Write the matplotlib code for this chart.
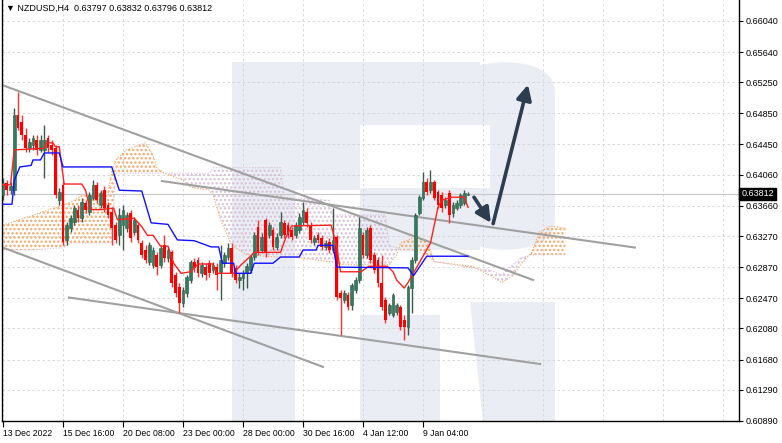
import matplotlib
matplotlib.use('Agg')
import matplotlib.pyplot as plt
from matplotlib.patches import Rectangle, Polygon, FancyBboxPatch
import numpy as np

# NZDUSD H4 candles (bar index 0 = 13 Dec 2022)
opens = [0.6380, 0.6395, 0.6386, 0.6386, 0.6483, 0.6474, 0.6457, 0.6440, 0.6444, 0.6451,
         0.6438, 0.6438, 0.6453, 0.6444, 0.6440, 0.6373, 0.6393, 0.6322, 0.6337, 0.6345,
         0.6361, 0.6350, 0.6370, 0.6358, 0.6376, 0.6393, 0.6367, 0.6386, 0.6367, 0.6358,
         0.6341, 0.6328, 0.6341, 0.6337, 0.6357, 0.6332, 0.6341, 0.6318, 0.6309, 0.6294,
         0.6290, 0.6303, 0.6290, 0.6315, 0.6299, 0.6306, 0.6277, 0.6261, 0.6241, 0.6254,
         0.6270, 0.6294, 0.6296, 0.6279, 0.6287, 0.6292, 0.6283, 0.6287, 0.6281, 0.6292,
         0.6300, 0.6312, 0.6286, 0.6270, 0.6273, 0.6279, 0.6283, 0.6300, 0.6339, 0.6309,
         0.6348, 0.6328, 0.6335, 0.6313, 0.6328, 0.6344, 0.6341, 0.6335, 0.6328, 0.6335,
         0.6345, 0.6358, 0.6341, 0.6319, 0.6328, 0.6324, 0.6313, 0.6319, 0.6309, 0.6326,
         0.6254, 0.6245, 0.6251, 0.6238, 0.6258, 0.6270, 0.6328, 0.6303, 0.6337, 0.6303,
         0.6296, 0.6267, 0.6245, 0.6228, 0.6225, 0.6229, 0.6236, 0.6219, 0.6210, 0.6260,
         0.6296, 0.6357, 0.6376, 0.6397, 0.6386, 0.6397, 0.6384, 0.6380, 0.6367, 0.6382,
         0.6357, 0.6363, 0.6367, 0.6370, 0.63797]
highs = [0.6402, 0.6399, 0.6397, 0.6492, 0.6512, 0.6483, 0.6466, 0.6453, 0.6457, 0.6457,
         0.6457, 0.6470, 0.6457, 0.6451, 0.6444, 0.6389, 0.6397, 0.6345, 0.6354, 0.6367,
         0.6367, 0.6376, 0.6373, 0.6384, 0.6399, 0.6397, 0.6386, 0.6391, 0.6371, 0.6363,
         0.6345, 0.6363, 0.6367, 0.6358, 0.6361, 0.6352, 0.6345, 0.6322, 0.6315, 0.6319,
         0.6313, 0.6306, 0.6315, 0.6328, 0.6313, 0.6309, 0.6281, 0.6267, 0.6261, 0.6277,
         0.6296, 0.6299, 0.6300, 0.6294, 0.6292, 0.6296, 0.6294, 0.6292, 0.6315, 0.6306,
         0.6318, 0.6318, 0.6290, 0.6279, 0.6283, 0.6292, 0.6303, 0.6332, 0.6348, 0.6331,
         0.6350, 0.6345, 0.6339, 0.6331, 0.6358, 0.6348, 0.6345, 0.6339, 0.6345, 0.6357,
         0.6371, 0.6363, 0.6345, 0.6328, 0.6332, 0.6328, 0.6322, 0.6324, 0.6363, 0.6328,
         0.6258, 0.6258, 0.6255, 0.6267, 0.6274, 0.6352, 0.6332, 0.6339, 0.6341, 0.6306,
         0.6300, 0.6303, 0.6249, 0.6241, 0.6254, 0.6241, 0.6238, 0.6225, 0.6264, 0.6300,
         0.6357, 0.6380, 0.6410, 0.6402, 0.6412, 0.6399, 0.6386, 0.6384, 0.6377, 0.6386,
         0.6371, 0.6373, 0.6382, 0.6386, 0.63832]
lows = [0.6373, 0.6380, 0.6381, 0.6380, 0.6464, 0.6451, 0.6435, 0.6435, 0.6438, 0.6431,
        0.6435, 0.6402, 0.6435, 0.6431, 0.6376, 0.6367, 0.6315, 0.6315, 0.6332, 0.6341,
        0.6345, 0.6345, 0.6357, 0.6354, 0.6373, 0.6370, 0.6363, 0.6358, 0.6350, 0.6315,
        0.6318, 0.6315, 0.6309, 0.6332, 0.6319, 0.6328, 0.6318, 0.6299, 0.6292, 0.6290,
        0.6286, 0.6277, 0.6286, 0.6294, 0.6294, 0.6261, 0.6249, 0.6228, 0.6236, 0.6249,
        0.6267, 0.6281, 0.6274, 0.6274, 0.6270, 0.6274, 0.6279, 0.6258, 0.6245, 0.6287,
        0.6296, 0.6274, 0.6267, 0.6260, 0.6258, 0.6260, 0.6279, 0.6296, 0.6303, 0.6305,
        0.6300, 0.6324, 0.6309, 0.6309, 0.6324, 0.6324, 0.6324, 0.6322, 0.6324, 0.6331,
        0.6341, 0.6339, 0.6318, 0.6315, 0.6318, 0.6309, 0.6309, 0.6305, 0.6305, 0.6245,
        0.6200, 0.6241, 0.6232, 0.6232, 0.6254, 0.6267, 0.6299, 0.6299, 0.6292, 0.6279,
        0.6261, 0.6232, 0.6215, 0.6225, 0.6223, 0.6225, 0.6206, 0.6193, 0.6200, 0.6228,
        0.6292, 0.6354, 0.6373, 0.6380, 0.6382, 0.6373, 0.6363, 0.6358, 0.6363, 0.6344,
        0.6352, 0.6361, 0.6363, 0.6367, 0.63796]
closes = [0.6395, 0.6386, 0.6391, 0.6483, 0.6466, 0.6457, 0.6440, 0.6448, 0.6453, 0.6438,
          0.6451, 0.6451, 0.6440, 0.6438, 0.6380, 0.6384, 0.6319, 0.6341, 0.6350, 0.6363,
          0.6350, 0.6371, 0.6361, 0.6380, 0.6393, 0.6373, 0.6382, 0.6363, 0.6354, 0.6337,
          0.6322, 0.6354, 0.6361, 0.6354, 0.6324, 0.6348, 0.6322, 0.6303, 0.6296, 0.6315,
          0.6309, 0.6287, 0.6312, 0.6299, 0.6309, 0.6267, 0.6254, 0.6241, 0.6258, 0.6274,
          0.6294, 0.6286, 0.6279, 0.6290, 0.6277, 0.6279, 0.6290, 0.6277, 0.6296, 0.6303,
          0.6312, 0.6279, 0.6270, 0.6274, 0.6279, 0.6288, 0.6300, 0.6328, 0.6306, 0.6326,
          0.6305, 0.6341, 0.6313, 0.6326, 0.6345, 0.6328, 0.6328, 0.6326, 0.6341, 0.6352,
          0.6361, 0.6344, 0.6322, 0.6324, 0.6322, 0.6313, 0.6318, 0.6309, 0.6322, 0.6249,
          0.6247, 0.6254, 0.6236, 0.6264, 0.6270, 0.6337, 0.6303, 0.6335, 0.6296, 0.6283,
          0.6267, 0.6236, 0.6219, 0.6238, 0.6251, 0.6238, 0.6210, 0.6210, 0.6261, 0.6296,
          0.6354, 0.6377, 0.6397, 0.6384, 0.6397, 0.6376, 0.6367, 0.6363, 0.6373, 0.6354,
          0.6367, 0.6370, 0.6380, 0.6382, 0.63812]

# Ichimoku lines (bar, price)
tenkan_bar = [0, 2, 3, 11, 11.5, 13.3, 14, 15, 15.7, 16.3, 21, 22, 23, 23.5, 26, 29.5, 30.5, 35,
              37, 38.5, 40, 42, 44, 45.5, 47.5, 50, 52, 56, 57, 61.5, 63.5, 66, 67, 74, 75.5,
              77, 87.5, 88, 89, 90, 95.5, 97.5, 102.5, 104, 105, 107, 108, 114, 116, 117,
              119.5, 123, 124]
tenkan_val = [0.6393, 0.6393, 0.6438, 0.6440, 0.6447, 0.6447, 0.6442, 0.6442, 0.6416, 0.6394,
              0.6394, 0.6386, 0.6367, 0.6361, 0.6361, 0.6363, 0.6348, 0.6350, 0.6339, 0.6328,
              0.6328, 0.6314, 0.6314, 0.6292, 0.6279, 0.6281, 0.6291, 0.6291, 0.6279, 0.6279,
              0.6290, 0.6301, 0.6306, 0.6306, 0.6326, 0.6340, 0.6341, 0.6332, 0.6313, 0.6281,
              0.6281, 0.6288, 0.6288, 0.6281, 0.6270, 0.6260, 0.6267, 0.6318, 0.6364, 0.6373,
              0.6377, 0.6377, 0.6364]
kijun_bar = [0, 2.4, 3, 4.5, 7.5, 8, 10, 11, 15, 16, 29, 31, 37, 39.5, 44, 46.5, 51, 55.5,
             57.5, 58.5, 61.5, 62, 66, 67, 72, 74, 79, 80, 83.5, 84, 88, 89, 108, 109.5,
             113, 124]
kijun_val = [0.6368, 0.6368, 0.6399, 0.6416, 0.6418, 0.6425, 0.6425, 0.6434, 0.6434, 0.6416,
             0.6416, 0.6386, 0.6385, 0.6344, 0.6342, 0.6322, 0.6321, 0.6313, 0.6313, 0.6292,
             0.6292, 0.6279, 0.6279, 0.6292, 0.6292, 0.6300, 0.6300, 0.6309, 0.6309, 0.6315,
             0.6315, 0.6287, 0.6286, 0.6276, 0.6301, 0.6301]
cloud_bar = [0, 8, 16, 18, 21, 28, 29, 30, 33, 38, 40, 41, 43, 48, 50, 55, 56, 58, 61, 65,
             70, 74, 75, 79, 87, 88, 91, 102, 103, 105, 106, 109, 113, 115, 125, 130, 133,
             136, 138, 141, 143, 146, 150]
span_a = [0.6341, 0.6354, 0.6367, 0.6370, 0.6379, 0.6384, 0.6410, 0.6425, 0.6438, 0.6447,
          0.6431, 0.6415, 0.6408, 0.6399, 0.6390, 0.6386, 0.6380, 0.6348, 0.6315, 0.6303,
          0.6301, 0.6300, 0.6300, 0.6299, 0.6294, 0.6294, 0.6290, 0.6290, 0.6290, 0.6303,
          0.6318, 0.6324, 0.6322, 0.6294, 0.6288, 0.6276, 0.6267, 0.6276, 0.6290, 0.6306,
          0.6332, 0.6340, 0.6337]
span_b = [0.6309, 0.6309, 0.6312, 0.6318, 0.6318, 0.6318, 0.6318, 0.6408, 0.6408, 0.6408,
          0.6408, 0.6408, 0.6408, 0.6408, 0.6408, 0.6408, 0.6415, 0.6415, 0.6415, 0.6415,
          0.6415, 0.6415, 0.6377, 0.6376, 0.6373, 0.6354, 0.6354, 0.6354, 0.6315, 0.6312,
          0.6309, 0.6309, 0.6303, 0.6294, 0.6286, 0.6283, 0.6277, 0.6290, 0.6299, 0.6303,
          0.6303, 0.6303, 0.6303]

# trend lines ((bar0, bar1), (price0, price1))
trend_lines = [((-0.5, 141.6), (0.6522, 0.6270)),
               ((42.1, 168.8), (0.6398, 0.6312)),
               ((-0.5, 85.6), (0.6313, 0.6158)),
               ((17.3, 143.5), (0.6248, 0.6162))]
# forecast arrows
arrow_pts = [((125.6, 0.6377), (130.1, 0.6344)), ((130.7, 0.6343), (140.0, 0.6522))]

price_ticks = [0.66040, 0.65640, 0.65250, 0.64850, 0.64450, 0.64060, 0.63660,
               0.63270, 0.62870, 0.62470, 0.62080, 0.61680, 0.61290, 0.60890]
time_ticks = [0, 16, 32, 48, 64, 80, 96, 112]
time_labels = ['13 Dec 2022', '15 Dec 16:00', '20 Dec 08:00', '23 Dec 00:00',
               '28 Dec 00:00', '30 Dec 16:00', '4 Jan 12:00', '9 Jan 04:00']
last_price = 0.63812

W, H = 782, 443
plt.rcParams['font.family'] = ['Liberation Sans', 'DejaVu Sans']
plt.rcParams['hatch.linewidth'] = 1.1
fig = plt.figure(figsize=(W / 100, H / 100), dpi=100)
ax = fig.add_axes([2 / W, 22 / H, 737 / W, 421 / H])
ax.set_xlim(-0.27, 196.27)
ax.set_ylim(0.60888, 0.6631)

# watermark "R" logo, drawn in image pixel coords
def px(x, y):
    return (x / W, 1 - y / H)

wm = '#eaeef4'
tr = fig.transFigure
def block(x0, y0, x1, y1, color=wm, z=0):
    ax.add_patch(Rectangle(px(x0, y1), (x1 - x0) / W, (y1 - y0) / H, transform=tr,
                           facecolor=color, edgecolor='none', zorder=z))

block(232, 62, 295, 422)      # stem
block(295, 62, 360, 190)      # upper stem widening
block(360, 62, 480, 125)      # top bar
block(360, 188, 480, 250)     # middle bar
block(360, 315, 440, 422)     # lower block
ax.add_patch(FancyBboxPatch(px(455, 250), 100 / W, 188 / H,
                            boxstyle='round,pad=0,rounding_size=0.07', transform=tr,
                            facecolor=wm, edgecolor='none', zorder=0))
block(455, 125, 490, 188, color='white', z=0.1)  # counter
ax.add_patch(Polygon([px(470, 302), px(555, 302), px(555, 422), px(483, 422)], closed=True,
                     transform=tr, facecolor=wm, edgecolor='none', zorder=0))

# grid
for p in price_ticks:
    ax.axhline(p, color='#d3d3d3', lw=0.6, ls=(0, (3, 3)), zorder=0.5)
for b in range(0, 197, 16):
    ax.axvline(b, color='#d3d3d3', lw=0.6, ls=(0, (3, 3)), zorder=0.5)

# ichimoku cloud
ca = np.array(span_a)
cb = np.array(span_b)
ax.fill_between(cloud_bar, ca, cb, where=ca >= cb, interpolate=True, facecolor='none',
                edgecolor='#f4a460', hatch='....', lw=0, zorder=1)
ax.fill_between(cloud_bar, ca, cb, where=ca < cb, interpolate=True, facecolor='none',
                edgecolor='#d8bfd8', hatch='....', lw=0, zorder=1)
ax.plot(cloud_bar, span_a, color='#f4a460', lw=0.8, ls=(0, (1, 1.5)), zorder=1.2)
ax.plot(cloud_bar, span_b, color='#d8bfd8', lw=0.8, ls=(0, (1, 1.5)), zorder=1.2)

# bid line
ax.axhline(last_price, color='#c8c8c8', lw=0.8, zorder=1.5)

# trend lines
for (bx, py) in trend_lines:
    ax.plot(bx, py, color='#a0a0a0', lw=1.5, zorder=2, solid_capstyle='butt')

# candles
o = np.array(opens)
h = np.array(highs)
l = np.array(lows)
c = np.array(closes)
x = np.arange(len(o))
up = c >= o
ax.vlines(x[up], l[up], h[up], color='#3c5a4c', lw=1, zorder=3)
ax.vlines(x[~up], l[~up], h[~up], color='#ff3030', lw=1, zorder=3)
ax.bar(x[up], np.maximum(c[up] - o[up], 0.00003), bottom=o[up], width=0.72,
       color='#2f7d5c', edgecolor='#35584a', lw=0.4, zorder=4)
ax.bar(x[~up], o[~up] - c[~up], bottom=c[~up], width=0.72, color='#ff0000', lw=0, zorder=4)

# tenkan / kijun
ax.plot(tenkan_bar, tenkan_val, color='#ff2020', lw=1, zorder=5)
ax.plot(kijun_bar, kijun_val, color='#1010ff', lw=1, zorder=5)

# forecast arrows
for (p0, p1) in arrow_pts:
    ax.annotate('', xy=p1, xytext=p0,
                arrowprops=dict(arrowstyle='-|>,head_length=0.9,head_width=0.45',
                                color='#2c3d4f', lw=2.6, shrinkA=0, shrinkB=0), zorder=6)

# axes
ax.spines['top'].set_visible(False)
for s in ['left', 'bottom', 'right']:
    ax.spines[s].set_color('black')
    ax.spines[s].set_linewidth(1)
ax.yaxis.tick_right()
ax.set_yticks(price_ticks)
ax.set_yticklabels(['%.5f' % p for p in price_ticks])
ax.tick_params(axis='y', length=3, width=0.8, pad=2, labelsize=6.5, colors='black')
ax.set_xticks(time_ticks)
ax.set_xticklabels(time_labels)
ax.tick_params(axis='x', length=4, width=0.8, pad=2, labelsize=6.2, colors='black')
for lab in ax.get_xticklabels():
    lab.set_horizontalalignment('left')

ax.text(4 / 737, 1 - 8 / 421, '\u25bc NZDUSD,H4  0.63797 0.63832 0.63796 0.63812',
        transform=ax.transAxes, fontsize=6.5, va='center', ha='left',
        family=['Liberation Sans', 'DejaVu Sans'])
ax.text(1.003, last_price, '0.63812', transform=ax.get_yaxis_transform(),
        fontsize=6.5, color='white', va='center', ha='left', zorder=10,
        bbox=dict(boxstyle='square,pad=0.2', facecolor='black', edgecolor='black'),
        clip_on=False)

fig.savefig('out.png', dpi=100)
